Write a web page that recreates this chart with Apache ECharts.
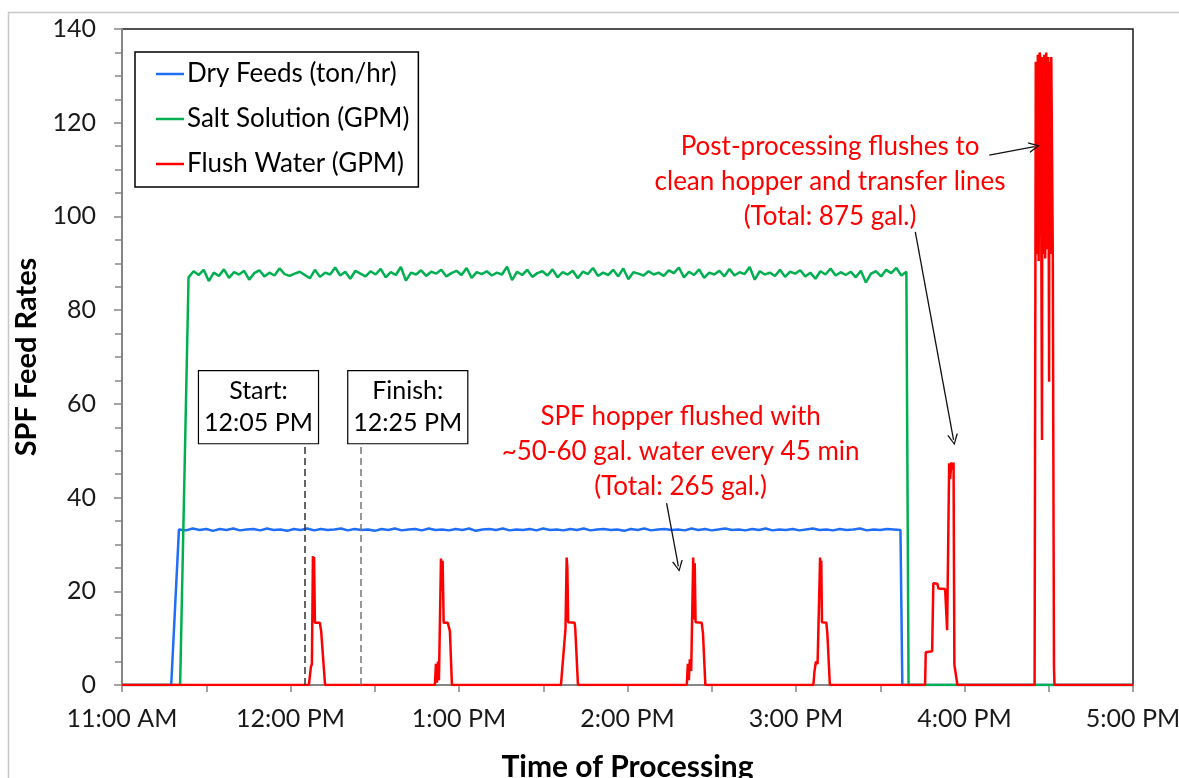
<!DOCTYPE html>
<html>
<head>
<meta charset="utf-8">
<script src="https://cdn.jsdelivr.net/npm/echarts@6/dist/echarts.min.js"></script>
<style>
html, body { margin: 0; padding: 0; background: #fff; }
#main { width: 1179px; height: 778px; }
</style>
</head>
<body>
<div id="main"></div>
<script>
// x axis is hour of the day (11 = 11:00 AM ... 17 = 5:00 PM)
var hourTicks = [11, 12, 13, 14, 15, 16, 17];
var hourLabels = ['11:00 AM', '12:00 PM', '1:00 PM', '2:00 PM', '3:00 PM', '4:00 PM', '5:00 PM'];
var seriesNames = ['Dry Feeds (ton/hr)', 'Salt Solution (GPM)', 'Flush Water (GPM)'];

// Dry feeds: ramp up, sampled plateau (every 0.04 h), ramp down
var dryRise = [[11, 0], [11.292, 0], [11.338, 33.2]];
var dryStart = 11.34, dryStep = 0.04;
var dryPlateau = [
    33.2, 33.0, 33.4, 33.1, 33.3, 32.9, 33.3, 33.1, 33.4, 33.0,
    33.2, 33.3, 33.0, 33.4, 33.1, 33.2, 32.9, 33.3, 33.1, 33.4,
    33.0, 33.3, 33.1, 33.2, 33.4, 33.0, 33.3, 33.1, 33.2, 32.9,
    33.3, 33.1, 33.4, 33.0, 33.2, 33.3, 33.0, 33.4, 33.1, 33.2,
    33.0, 33.3, 33.1, 33.4, 32.9, 33.2, 33.3, 33.1, 33.4, 33.0,
    33.2, 33.1, 33.3, 33.0, 33.4, 33.1, 33.2, 33.0, 33.3, 33.1,
    33.4, 33.0, 33.2, 33.3, 33.1, 33.2, 32.9, 33.3, 33.1, 33.4,
    33.0, 33.2, 33.3, 33.1, 33.2, 33.0, 33.4, 33.1, 33.3, 33.0,
    33.2, 33.4, 33.1, 33.2, 33.0, 33.3, 33.1, 33.4, 33.0, 33.2,
    33.1, 33.3, 33.0, 33.2, 33.4, 33.1, 33.2, 33.0, 33.3, 33.1,
    33.2, 33.4, 33.0, 33.2, 33.1, 33.3, 33.2, 33.1
];
var dryFall = [[15.631, 0], [17, 0]];

// Salt solution: sampled plateau every 0.03 h
var saltRise = [[11, 0], [11.345, 0]];
var saltStart = 11.395, saltStep = 0.03;
var saltPlateau = [
    87.0, 88.3, 87.5, 88.6, 86.2, 88.0, 87.3, 88.7, 86.9, 88.1,
    87.6, 88.4, 86.5, 87.9, 88.5, 87.2, 88.0, 87.4, 88.9, 87.7,
    87.3, 87.8, 88.2, 87.5, 86.8, 88.6, 87.1, 88.0, 87.6, 89.1,
    87.4, 88.2, 86.7, 88.4, 87.8, 87.2, 88.3, 87.6, 88.8, 87.0,
    88.1, 87.5, 89.2, 86.3, 88.0, 87.6, 88.5, 87.3, 88.2, 87.8,
    88.6, 87.2, 87.9, 88.4, 87.5, 89.0, 86.9, 88.1, 87.7, 88.3,
    87.4, 88.0, 87.6, 89.3, 86.4, 88.2, 87.5, 88.6, 87.1, 87.9,
    88.3, 87.4, 88.7, 87.0, 88.1, 87.6, 88.4, 86.8, 88.2, 87.7,
    89.0, 87.3, 88.0, 87.5, 88.6, 87.2, 88.9, 86.6, 88.1, 87.8,
    87.4, 88.3, 87.6, 88.0, 87.3, 88.5, 87.9, 89.1, 87.0, 88.2,
    87.5, 88.7, 86.9, 88.0, 87.6, 88.4, 87.2, 88.8, 87.4, 88.1,
    87.7, 89.2, 86.5, 88.3, 87.6, 88.0, 87.3, 88.6, 87.1, 88.2,
    87.8, 88.5, 87.2, 88.0, 86.7, 88.3, 87.6, 88.9, 87.4, 88.1,
    87.5, 88.2, 87.0, 88.4, 85.9, 87.8, 88.3, 87.2, 88.6, 87.9,
    89.0, 87.4, 88.2
];
var saltFall = [[15.668, 0], [17, 0]];

// Flush water pulses [hour, GPM]
var flush1 = [[12.109, 0], [12.121, 3.8], [12.127, 4.5], [12.133, 27.5], [12.137, 20], [12.140, 27.3], [12.145, 13.3], [12.174, 13.3], [12.182, 11.5], [12.205, 0]];
var flush2 = [[12.857, 0], [12.863, 4.5], [12.869, 0.5], [12.875, 5], [12.881, 1], [12.893, 27], [12.899, 20], [12.903, 26.5], [12.909, 13.3], [12.933, 13.3], [12.946, 11.5], [12.958, 0]];
var flush3 = [[13.605, 0], [13.632, 12], [13.639, 27.2], [13.643, 25], [13.648, 13.4], [13.686, 13.3], [13.690, 12], [13.706, 0]];
var flush4 = [[14.352, 0], [14.358, 4.5], [14.364, 1], [14.370, 5.5], [14.378, 3], [14.390, 27.2], [14.395, 14], [14.399, 26], [14.404, 13.4], [14.440, 13.3], [14.448, 11], [14.462, 0]];
var flush5 = [[15.103, 0], [15.110, 3], [15.118, 5], [15.128, 4.5], [15.143, 27.2], [15.147, 20], [15.150, 26.5], [15.154, 13.4], [15.180, 13.3], [15.186, 11], [15.201, 0]];
var flush6 = [[15.766, 0], [15.770, 7.0], [15.780, 7.0], [15.808, 7.2], [15.815, 21.7], [15.839, 21.6], [15.845, 20.6], [15.885, 20.5], [15.897, 11.7], [15.909, 47.3], [15.915, 44], [15.922, 47.5], [15.930, 46], [15.935, 47.5], [15.940, 4.3], [15.958, 0]];
var flush7 = [[16.416, 0], [16.423, 133], [16.429, 92], [16.435, 134.5], [16.440, 90.5], [16.446, 135], [16.452, 133.5], [16.460, 52.3], [16.462, 134], [16.467, 92], [16.473, 134.5], [16.479, 91], [16.485, 135], [16.491, 93], [16.497, 134], [16.502, 64.7], [16.504, 133], [16.509, 92], [16.515, 134], [16.520, 134], [16.524, 92], [16.527, 53], [16.531, 4], [16.534, 0]];

// start / finish times of the run
var runStart = 12.0833, runFinish = 12.4167;

var FONT = 'Lato, "Open Sans", "DejaVu Sans", sans-serif';

function sampled(before, start, step, values, after) {
    var out = before.slice();
    for (var i = 0; i < values.length; i++) {
        out.push([+(start + i * step).toFixed(4), values[i]]);
    }
    return out.concat(after);
}

var dryData = sampled(dryRise, dryStart, dryStep, dryPlateau, dryFall);
var saltData = sampled(saltRise, saltStart, saltStep, saltPlateau, saltFall);
var flushData = [[11, 0]].concat(flush1, flush2, flush3, flush4, flush5, flush6, flush7, [[17, 0]]);

function arrow(x1, y1, x2, y2) {
    return [{ coord: [x1, y1] }, { coord: [x2, y2] }];
}

var boxLabel = {
    show: true, position: 'inside', fontFamily: FONT, fontSize: 25, lineHeight: 32,
    color: '#000', backgroundColor: '#fff', borderColor: '#000', borderWidth: 1.2,
    padding: [4, 5, 4, 5], align: 'center'
};
var redLabel = {
    show: true, position: 'inside', fontFamily: FONT, fontSize: 26, lineHeight: 35,
    color: '#ff0000', align: 'center'
};

var myChart = echarts.init(document.getElementById('main'));
var option = {
    animation: false,
    backgroundColor: '#fff',
    textStyle: { fontFamily: FONT },
    graphic: [{
        type: 'rect', silent: true, z: -10,
        shape: { x: 8.5, y: 12.5, width: 1200, height: 800 },
        style: { fill: 'none', stroke: '#c8c8c8', lineWidth: 1.5 }
    }],
    grid: {
        left: 122, right: 46, top: 29, bottom: 93,
        outerBoundsMode: 'none',
        show: true, borderColor: '#1a1a1a', borderWidth: 1.5, backgroundColor: 'transparent'
    },
    legend: {
        data: seriesNames,
        icon: 'rect',
        orient: 'vertical',
        left: 135, top: 52,
        padding: [9, 9, 10, 21],
        itemGap: 19, itemWidth: 28, itemHeight: 2.5,
        borderColor: '#000', borderWidth: 1.5, backgroundColor: '#fff',
        textStyle: { fontFamily: FONT, fontSize: 26, lineHeight: 26, color: '#000', padding: [0, 0, 0, -2] }
    },
    xAxis: {
        type: 'value', min: 11, max: 17, interval: 1,
        name: 'Time of Processing', nameLocation: 'middle', nameGap: 67,
        nameTextStyle: { fontFamily: FONT, fontSize: 30, fontWeight: 'bold', color: '#000' },
        axisLine: { onZero: false, lineStyle: { color: '#868686', width: 2 } },
        axisTick: { show: true, length: 7, lineStyle: { color: '#868686', width: 1.5 } },
        minorTick: { show: true, splitNumber: 2, length: 7, lineStyle: { color: '#868686', width: 1.5 } },
        splitLine: { show: false },
        axisLabel: {
            fontSize: 25, color: '#1a1a1a', margin: 21,
            formatter: function (v) {
                var i = hourTicks.indexOf(v);
                return i >= 0 ? hourLabels[i] : '';
            }
        }
    },
    yAxis: {
        type: 'value', min: 0, max: 140, interval: 20,
        name: 'SPF Feed Rates', nameLocation: 'middle', nameGap: 72,
        nameTextStyle: { fontFamily: FONT, fontSize: 29, fontWeight: 'bold', color: '#000' },
        axisLine: { show: true, onZero: false, lineStyle: { color: '#868686', width: 2 } },
        axisTick: { show: true, length: 8, lineStyle: { color: '#868686', width: 1.5 } },
        minorTick: { show: true, splitNumber: 4, length: 7, lineStyle: { color: '#868686', width: 1.5 } },
        splitLine: { show: false },
        axisLabel: { fontSize: 25, color: '#1a1a1a', margin: 26 }
    },
    series: [{
        name: seriesNames[0], type: 'line', symbol: 'none', data: dryData,
        lineStyle: { color: '#1f6ef5', width: 2.5 }, itemStyle: { color: '#1f6ef5' },
        markLine: {
            silent: true, symbol: 'none', label: { show: false },
            data: [
                [{ coord: [runStart, 0], lineStyle: { color: '#333', type: [7, 4], width: 1.5 } }, { coord: [runStart, 51.5] }],
                [{ coord: [runFinish, 0], lineStyle: { color: '#777', type: [7, 4], width: 1.5 } }, { coord: [runFinish, 51.5] }]
            ]
        }
    }, {
        name: seriesNames[1], type: 'line', symbol: 'none', data: saltData,
        lineStyle: { color: '#00b050', width: 2.5 }, itemStyle: { color: '#00b050' }
    }, {
        name: seriesNames[2], type: 'line', symbol: 'none', data: flushData,
        lineStyle: { color: '#ff0000', width: 2.5 }, itemStyle: { color: '#ff0000' },
        markLine: {
            silent: true,
            symbol: ['none', 'path://M0,12 L5,0 L10,12 L8.6,12 L5,3 L1.4,12 Z'],
            symbolSize: 11,
            label: { show: false },
            lineStyle: { color: '#111', type: 'solid', width: 1.3 },
            data: [
                arrow(14.232, 38.8, 14.302, 25.3),
                arrow(16.147, 113.1, 16.415, 114.9),
                arrow(15.708, 96.7, 15.935, 52.3)
            ]
        },
        markPoint: {
            silent: true, symbol: 'rect', symbolSize: 1,
            itemStyle: { color: 'rgba(0,0,0,0)' },
            data: [
                { coord: [11.81, 59.3], label: boxLabel, value: 'Start:\n12:05 PM' },
                { coord: [12.696, 59.3], label: boxLabel, value: 'Finish:\n12:25 PM' },
                { coord: [14.315, 49.9], label: redLabel, value: 'SPF hopper flushed with\n~50-60 gal. water every 45 min\n(Total: 265 gal.)' },
                { coord: [15.202, 107.4], label: redLabel, value: 'Post-processing flushes to\nclean hopper and transfer lines\n(Total: 875 gal.)' }
            ],
            label: { formatter: function (p) { return p.value; } }
        }
    }]
};
myChart.setOption(option);
</script>
</body>
</html>
